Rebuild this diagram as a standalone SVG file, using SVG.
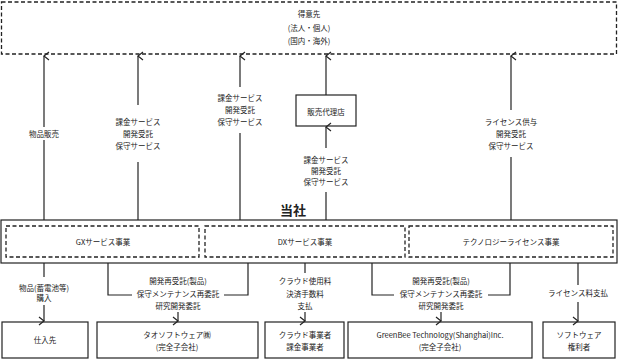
<svg xmlns="http://www.w3.org/2000/svg" width="619" height="359" viewBox="0 0 619 359">
<defs>
<style>
text{font-family:"Noto Sans CJK JP","Liberation Sans",sans-serif;font-size:7.5px;fill:#222;text-anchor:middle;}
.box{fill:#fff;stroke:#222;stroke-width:1.2;}
.dash{fill:none;stroke:#222;stroke-width:1.3;stroke-dasharray:4,2.5;}
.ln{fill:none;stroke:#222;stroke-width:1.2;}
.big{font-size:13px;font-weight:bold;text-anchor:start;}
</style>
<marker id="arr" markerUnits="userSpaceOnUse" markerWidth="10" markerHeight="10" refX="5" refY="1" orient="auto-start-reverse" viewBox="0 0 10 10">
<path d="M1,6 L5,1 L9,6" fill="none" stroke="#222" stroke-width="1.2"/>
</marker>
</defs>
<rect width="619" height="359" fill="#fff"/>

<g id="customer">
<rect class="dash" x="1.5" y="2" width="615" height="52"/>
<text x="309" y="16.5">得意先</text>
<text x="309" y="31">(法人・個人)</text>
<text x="309" y="44">(国内・海外)</text>
</g>

<g id="agent">
<rect class="box" x="296" y="95" width="60" height="31"/>
<text x="326" y="114.5">販売代理店</text>
</g>

<g id="company">
<rect class="box" x="1" y="220" width="616" height="43"/>
<text class="big" x="280" y="214.5">当社</text>
<g id="gx">
<rect class="dash" x="6" y="226" width="193" height="31"/>
<text x="103" y="244.5">GXサービス事業</text>
</g>
<g id="dx">
<rect class="dash" x="205" y="226" width="200" height="31"/>
<text x="305" y="244.5">DXサービス事業</text>
</g>
<g id="tech">
<rect class="dash" x="409" y="226" width="204" height="31"/>
<text x="511" y="244.5">テクノロジーライセンス事業</text>
</g>
</g>

<g id="supplier">
<rect class="box" x="2" y="322" width="86" height="36"/>
<text x="45" y="343">仕入先</text>
</g>
<g id="tao">
<rect class="box" x="97" y="322" width="161" height="36"/>
<text x="177" y="337.5">タオソフトウェア㈱</text>
<text x="177" y="350">(完全子会社)</text>
</g>
<g id="cloud">
<rect class="box" x="265" y="322" width="79" height="36"/>
<text x="305" y="337.5">クラウド事業者</text>
<text x="305" y="350">課金事業者</text>
</g>
<g id="greenbee">
<rect class="box" x="348" y="322" width="184" height="36"/>
<text x="440" y="337.5">GreenBee Technology(Shanghai)Inc.</text>
<text x="440" y="350">(完全子会社)</text>
</g>
<g id="software">
<rect class="box" x="543" y="322" width="72" height="36"/>
<text x="579" y="337.5">ソフトウェア</text>
<text x="579" y="350">権利者</text>
</g>

<g id="connectors">
<!-- upward to customer -->
<path class="ln" d="M44,220 V140"/>
<path class="ln" d="M44,127 V56" marker-end="url(#arr)"/>
<text x="44" y="136.5">物品販売</text>

<path class="ln" d="M138,220 V162"/>
<path class="ln" d="M138,105 V56" marker-end="url(#arr)"/>
<text x="138" y="124.5">課金サービス</text>
<text x="138" y="136.5">開発受託</text>
<text x="138" y="148.5">保守サービス</text>

<path class="ln" d="M240,220 V133"/>
<path class="ln" d="M240,87 V56" marker-end="url(#arr)"/>
<text x="240" y="100.5">課金サービス</text>
<text x="240" y="112.5">開発受託</text>
<text x="240" y="124.5">保守サービス</text>

<path class="ln" d="M326,95 V56" marker-end="url(#arr)"/>
<path class="ln" d="M326,220 V192"/>
<path class="ln" d="M326,148 V127" marker-end="url(#arr)"/>
<text x="326" y="162.5">課金サービス</text>
<text x="326" y="173.5">開発受託</text>
<text x="326" y="185">保守サービス</text>

<path class="ln" d="M511,220 V157"/>
<path class="ln" d="M511,110 V56" marker-end="url(#arr)"/>
<text x="511" y="124.5">ライセンス供与</text>
<text x="511" y="136.5">開発受託</text>
<text x="511" y="148.5">保守サービス</text>

<!-- downward -->
<path class="ln" d="M44,263 V277"/>
<path class="ln" d="M44,305 V321" marker-end="url(#arr)"/>
<text x="44" y="291">物品(蓄電池等)</text>
<text x="44" y="301">購入</text>

<path class="ln" d="M108,263 V295 H132"/>
<path class="ln" d="M224,295 H248 V263"/>
<text x="178" y="284">開発再受託(製品)</text>
<text x="178" y="297">保守メンテナンス再委託</text>
<text x="178" y="309">研究開発委託</text>
<path class="ln" d="M178,312 V321" marker-end="url(#arr)"/>

<path class="ln" d="M305,263 V273"/>
<text x="305" y="284">クラウド使用料</text>
<text x="305" y="297">決済手数料</text>
<text x="305" y="309">支払</text>
<path class="ln" d="M305,312 V321" marker-end="url(#arr)"/>

<path class="ln" d="M372,263 V295 H394"/>
<path class="ln" d="M488,295 H510 V263"/>
<text x="441" y="284">開発再受託(製品)</text>
<text x="441" y="297">保守メンテナンス再委託</text>
<text x="441" y="309">研究開発委託</text>
<path class="ln" d="M441,312 V321" marker-end="url(#arr)"/>

<path class="ln" d="M578,263 V285"/>
<text x="578" y="296">ライセンス料支払</text>
<path class="ln" d="M578,302 V321" marker-end="url(#arr)"/>
</g>
</svg>
